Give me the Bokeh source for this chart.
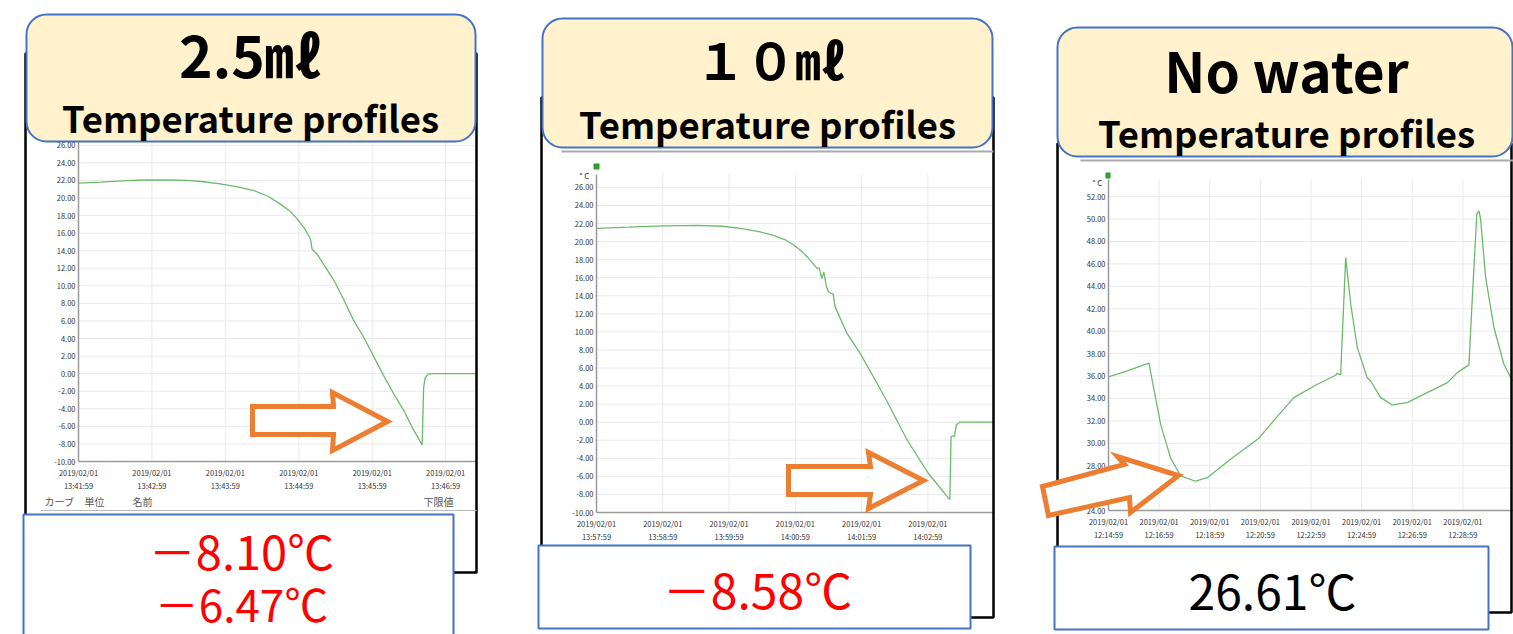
from bokeh.plotting import figure
from bokeh.layouts import row
from bokeh.models import (FixedTicker, PrintfTickFormatter, BoxAnnotation,
                          PolyAnnotation, Label, Range1d, LinearAxis)
from bokeh.embed import file_html
from bokeh.resources import INLINE

# ---------------- data (minutes after first tick, degC) ----------------
t_25 = [0, 0.3, 0.6, 0.89, 1.2, 1.48, 1.7, 1.93, 2.15, 2.39, 2.58, 2.75, 2.88,
        2.98, 3.08, 3.16, 3.18, 3.25, 3.35, 3.48, 3.62, 3.75, 3.88, 3.98, 4.08,
        4.18, 4.3, 4.43, 4.55, 4.68, 4.70, 4.72, 4.76, 4.85, 5.0, 5.42]
temp_25 = [21.7, 21.8, 21.95, 22.05, 22.05, 22.0, 21.85, 21.6, 21.3, 20.85,
           20.2, 19.3, 18.5, 17.6, 16.5, 15.3, 14.2, 13.6, 12.3, 10.6, 8.3, 6.0,
           4.2, 2.6, 1.0, -0.6, -2.4, -4.2, -6.2, -8.1, -1.6, -0.5, -0.05, 0.0,
           0.0, 0.0]

t_10 = [0, 0.5, 1.0, 1.52, 1.9, 2.17, 2.45, 2.67, 2.85, 2.98, 3.1, 3.18, 3.33,
        3.36, 3.40, 3.43, 3.47, 3.50, 3.53, 3.57, 3.60, 3.78, 3.98, 4.18, 4.36,
        4.69, 5.0, 5.33, 5.35, 5.39, 5.40, 5.43, 5.48, 5.7, 5.99]
temp_10 = [21.46, 21.6, 21.75, 21.8, 21.7, 21.46, 21.1, 20.7, 20.2, 19.6, 18.9,
           18.3, 17.0, 17.1, 15.9, 16.65, 15.0, 14.44, 14.3, 14.2, 12.8, 9.83,
           7.6, 5.0, 2.63, -2.0, -5.6, -8.58, -1.6, -1.5, -1.6, -0.3, 0.0, 0.0,
           0.0]

t_dry = [0, 0.74, 1.6, 1.73, 2.06, 2.45, 2.85, 3.44, 3.9, 4.82, 5.94, 6.4,
         7.32, 8.25, 8.97, 9.04, 9.17, 9.37, 9.57, 9.83, 10.22, 10.36, 10.75,
         11.21, 11.8, 12.73, 13.39, 13.78, 14.24, 14.38, 14.55, 14.64, 14.70,
         14.9, 15.23, 15.62, 15.96]
temp_dry = [35.92, 36.45, 37.14, 35.56, 31.68, 28.7, 27.08, 26.61, 26.93, 28.57,
            30.44, 31.69, 34.07, 35.26, 36.07, 36.24, 36.1, 46.56, 42.4, 38.53,
            35.85, 35.55, 34.07, 33.42, 33.63, 34.67, 35.41, 36.3, 36.99, 43.3,
            50.43, 50.72, 49.98, 44.78, 40.3, 37.05, 35.55]

date_label = "2019/02/01"
xticks_25 = [0, 1, 2, 3, 4, 5]
times_25 = ["13:41:59", "13:42:59", "13:43:59", "13:44:59", "13:45:59", "13:46:59"]
xticks_10 = [0, 1, 2, 3, 4, 5]
times_10 = ["13:57:59", "13:58:59", "13:59:59", "14:00:59", "14:01:59", "14:02:59"]
xticks_dry = [0, 2, 4, 6, 8, 10, 12, 14]
times_dry = ["12:14:59", "12:16:59", "12:18:59", "12:20:59", "12:22:59",
             "12:24:59", "12:26:59", "12:28:59"]
yticks_water = list(range(-10, 27, 2))
yticks_dry = list(range(24, 53, 2))

titles = ["2.5㎖", "１０㎖", "No water"]
subtitle = "Temperature profiles"
values_25 = ["－8.10℃", "－6.47℃"]
values_10 = ["－8.58℃"]
values_dry = ["26.61℃"]
table_head = ["カーブ", "単位", "名前", "下限値"]

FONT = "Noto Sans CJK JP"
BLUE = "#4472C4"
ORANGE = "#ED7D31"
GREEN = "#6CBB6C"
H = 634


def S(cfg, X, Y):
    """page-pixel position -> screen units of the panel (frame = whole panel)"""
    return X - cfg["X0"], H - Y


def box(p, cfg, x0, y0, x1, y1, **kw):
    l, b = S(cfg, x0, y1)
    r, t = S(cfg, x1, y0)
    kw.setdefault("line_alpha", 1)
    p.add_layout(BoxAnnotation(left=l, right=r, bottom=b, top=t,
                               left_units="screen", right_units="screen",
                               top_units="screen", bottom_units="screen", **kw))


def label(p, cfg, X, Y, text, size, color="black", bold=False, align="center"):
    sx, sy = S(cfg, X, Y)
    p.add_layout(Label(x=sx, y=sy, x_units="screen", y_units="screen", text=text,
                       text_font=FONT, text_font_size=f"{size}px",
                       text_color=color,
                       text_font_style="bold" if bold else "normal",
                       text_align=align, text_baseline="middle"))


def arrow(p, cfg, pts):
    xs, ys = [], []
    for X, Y in pts:
        sx, sy = S(cfg, X, Y)
        xs.append(sx)
        ys.append(sy)
    p.add_layout(PolyAnnotation(xs=xs, ys=ys, xs_units="screen", ys_units="screen",
                                fill_color="white", fill_alpha=1,
                                line_color=ORANGE, line_alpha=1, line_width=5,
                                line_join="miter"))


def make_panel(cfg, t, temp, xt, times, yt):
    W = cfg["W"]
    k = (cfg["FR"] - cfg["FL"]) / cfg["x1"]
    s = (cfg["FB"] - cfg["FT"]) / (cfg["y1"] - cfg["y0"])
    xr = Range1d((cfg["X0"] - cfg["FL"]) / k, (cfg["X0"] + W - cfg["FL"]) / k)
    yr = Range1d(cfg["y0"] - (H - cfg["FB"]) / s, cfg["y0"] + cfg["FB"] / s)
    p = figure(width=W, height=H, output_backend="svg", toolbar_location=None,
               x_range=xr, y_range=yr, min_border=0,
               x_axis_location=None, y_axis_location=None)
    p.outline_line_color = None
    p.background_fill_color = "white"
    p.border_fill_color = "white"
    p.grid.visible = False
    x0, x1, y0, y1 = 0, cfg["x1"], cfg["y0"], cfg["y1"]
    # grid of the screenshot's chart
    gx = [v for v in xt if 0 < v <= x1]
    p.segment(x0=gx, y0=[y0] * len(gx), x1=gx, y1=[y1] * len(gx),
              line_color="#EAEAEA", line_width=1)
    gy = [v for v in yt if v > y0]
    p.segment(x0=[x0] * len(gy), y0=gy, x1=[x1] * len(gy), y1=gy,
              line_color="#EAEAEA", line_width=1)
    xa = LinearAxis(fixed_location=y0, bounds=(x0, x1), ticker=FixedTicker(ticks=xt))
    xa.major_label_overrides = {k_: f"{date_label}\n{s_}" for k_, s_ in zip(xt, times)}
    ya = LinearAxis(fixed_location=x0, bounds=(y0, y1), ticker=FixedTicker(ticks=yt),
                    formatter=PrintfTickFormatter(format="%.2f"))
    for ax in (xa, ya):
        ax.axis_line_color = "#9A9A9A"
        ax.axis_line_width = 1.5
        ax.major_tick_line_color = None
        ax.minor_tick_line_color = None
        ax.major_tick_out = 0
        ax.major_tick_in = 0
        ax.major_label_text_font = FONT
        ax.major_label_text_font_size = "7.5px"
        ax.major_label_text_color = "#333333"
    ya.major_label_standoff = 3
    xa.major_label_standoff = 5
    p.add_layout(xa, "below")
    p.add_layout(ya, "left")
    p.line(t, temp, line_color=GREEN, line_width=1.3)
    return p


# geometry of each panel in page pixels
c1 = dict(X0=0, W=523, FL=78, FR=476, FT=136, FB=461, x1=5.42, y0=-10, y1=27.0)
c2 = dict(X0=523, W=515, FL=596, FR=993, FT=174, FB=512, x1=5.99, y0=-10, y1=27.43)
c3 = dict(X0=1038, W=475, FL=1108, FR=1513, FT=179, FB=510, x1=16.0, y0=24, y1=53.53)

p1 = make_panel(c1, t_25, temp_25, xticks_25, times_25, yticks_water)
p2 = make_panel(c2, t_10, temp_10, xticks_10, times_10, yticks_water)
p3 = make_panel(c3, t_dry, temp_dry, xticks_dry, times_dry, yticks_dry)

# ---- panel 1 decorations ----
box(p1, c1, 25, 53, 476, 572, fill_alpha=0, line_color="black", line_width=2.5)
for txt, X in zip(table_head, [59, 94, 142, 438]):
    label(p1, c1, X, 501, txt, 10, color="#555555")
box(p1, c1, 40, 509.5, 476, 510.5, fill_color="#BBBBBB", fill_alpha=1, line_color=None)
arrow(p1, c1, [(252, 406), (333, 406), (332, 392), (387, 421), (332, 450),
               (333, 434), (252, 434)])
box(p1, c1, 26, 14, 475, 141, fill_color="#FFF2CC", fill_alpha=1,
    line_color=BLUE, line_width=2, border_radius=20)
label(p1, c1, 250, 52, titles[0], 57, bold=True)
label(p1, c1, 250, 117, subtitle, 36.5, bold=True)
box(p1, c1, 23, 514, 453, 660, fill_color="white", fill_alpha=1,
    line_color=BLUE, line_width=2)
label(p1, c1, 241, 549, values_25[0], 47, color="#FF0000")
label(p1, c1, 241, 602, values_25[1], 44, color="#FF0000")

# ---- panel 2 decorations ----
box(p2, c2, 541, 97, 993, 617, fill_alpha=0, line_color="black", line_width=2.5)
box(p2, c2, 561, 150, 993, 152, fill_color="#AAAAAA", fill_alpha=1, line_color=None)
box(p2, c2, 593, 163, 599, 169, fill_color="#2E9E2E", fill_alpha=1, line_color=None)
label(p2, c2, 584, 175, "° C", 8, color="#333333")
arrow(p2, c2, [(788, 466), (870, 466), (868, 452), (923, 480), (868, 508),
               (870, 494), (788, 494)])
box(p2, c2, 542, 18, 992, 147, fill_color="#FFF2CC", fill_alpha=1,
    line_color=BLUE, line_width=2, border_radius=20)
label(p2, c2, 770, 57, titles[1], 50, bold=True)
label(p2, c2, 767, 123, subtitle, 36.5, bold=True)
box(p2, c2, 538, 545, 970, 628, fill_color="white", fill_alpha=1,
    line_color=BLUE, line_width=2)
label(p2, c2, 757, 587, values_10[0], 48, color="#FF0000")

# ---- panel 3 decorations ----
box(p3, c3, 1057, 143, 1511, 612, fill_alpha=0, line_color="black", line_width=2.5)
box(p3, c3, 1080, 159, 1513, 161, fill_color="#AAAAAA", fill_alpha=1, line_color=None)
box(p3, c3, 1105, 172, 1110, 178, fill_color="#2E9E2E", fill_alpha=1, line_color=None)
label(p3, c3, 1097, 182, "° C", 8, color="#333333")
arrow(p3, c3, [(1042, 486), (1124, 464), (1117, 456), (1178, 475), (1130, 512),
               (1129, 497), (1048, 515)])
box(p3, c3, 1057, 27, 1512, 156, fill_color="#FFF2CC", fill_alpha=1,
    line_color=BLUE, line_width=2, border_radius=20)
label(p3, c3, 1286, 68, titles[2], 55, bold=True)
label(p3, c3, 1286, 132, subtitle, 36.5, bold=True)
box(p3, c3, 1054, 546, 1488, 629, fill_color="white", fill_alpha=1,
    line_color=BLUE, line_width=2)
label(p3, c3, 1272, 588, values_dry[0], 48, color="black")

layout = row(p1, p2, p3)
open("out.html", "w").write(file_html(layout, INLINE))
